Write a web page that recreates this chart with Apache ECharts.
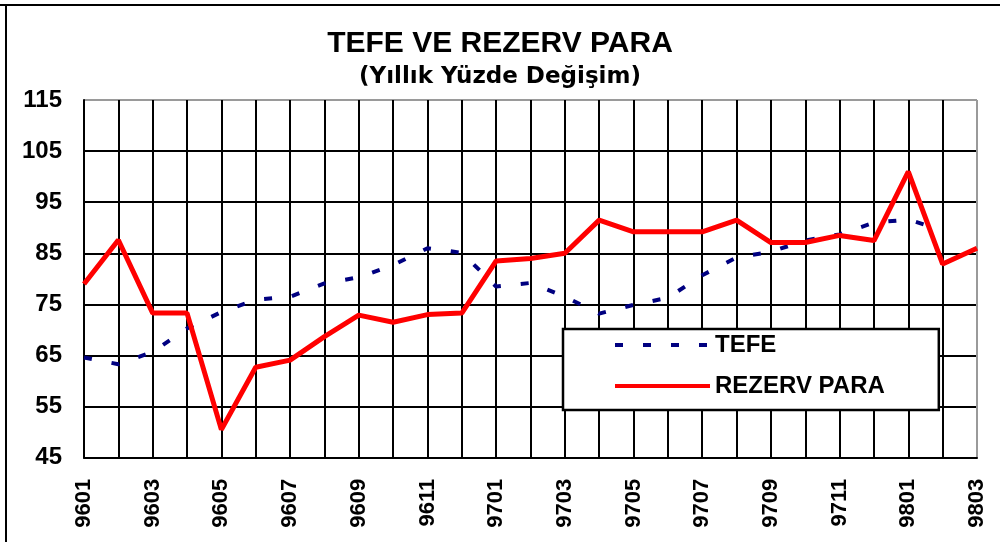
<!DOCTYPE html>
<html>
<head>
<meta charset="utf-8">
<script src="https://cdn.jsdelivr.net/npm/echarts@6/dist/echarts.min.js"></script>
<style>
html,body{margin:0;padding:0;background:#fff;}
#c{width:1000px;height:542px;}
</style>
</head>
<body>
<div id="c"></div>
<script>
var categories = ['9601','9602','9603','9604','9605','9606','9607','9608','9609','9610','9611','9612',
                  '9701','9702','9703','9704','9705','9706','9707','9708','9709','9710','9711','9712',
                  '9801','9802','9803'];
var tefe = [64.6, 63.3, 65.7, 70.3, 73.5, 75.9, 76.5, 79.1, 80.3, 82.7, 86.0, 85.1,
            78.5, 79.2, 76.5, 73.2, 74.9, 76.3, 80.7, 84.2, 85.3, 87.5, 88.7, 91.0,
            91.6, 89.5, null];
var rezervPara = [79.0, 87.6, 73.3, 73.3, 50.5, 62.7, 64.1, 68.7, 72.9, 71.5, 73.0, 73.3,
                  83.5, 84.0, 85.0, 91.5, 89.2, 89.2, 89.2, 91.5, 87.1, 87.1, 88.5, 87.5,
                  101.0, 82.9, 86.0];
var yTicks = {min: 45, max: 115, interval: 10};
var titleText = 'TEFE VE REZERV PARA';
var subtitleText = '(Yıllık Yüzde Değişim)';
var seriesNames = ['TEFE', 'REZERV PARA'];

var xLineColors = categories.map(function (c, i) { return i === categories.length - 1 ? '#9a9a9a' : '#000'; });
var yLineColors = [];
for (var v = yTicks.min; v <= yTicks.max; v += yTicks.interval) {
  yLineColors.push(v === yTicks.max ? '#9a9a9a' : '#000');
}

var chart = echarts.init(document.getElementById('c'), null, {renderer: 'canvas'});
chart.setOption({
  backgroundColor: '#fff',
  animation: false,
  title: [
    {
      text: titleText, left: 'center', top: 29, padding: [0, 0, 0, 22],
      textStyle: {fontFamily: 'Arial, "Liberation Sans", sans-serif', fontWeight: 'bold', fontSize: 30, color: '#000'}
    },
    {
      text: subtitleText, left: 'center', top: 66, padding: [0, 0, 0, 16],
      textStyle: {fontFamily: '"DejaVu Sans", sans-serif', fontWeight: 'bold', fontSize: 23, color: '#000'}
    }
  ],
  graphic: [
    {type: 'line', shape: {x1: 0, y1: 5, x2: 1000, y2: 5}, style: {stroke: '#000', lineWidth: 2}},
    {type: 'line', shape: {x1: 6, y1: 4, x2: 6, y2: 542}, style: {stroke: '#000', lineWidth: 2}}
  ],
  grid: {left: 84, top: 100, width: 893, height: 357.7, containLabel: false},
  legend: {
    orient: 'vertical',
    left: 563, top: 329,
    data: [
      {name: seriesNames[0], icon: 'inherit', itemStyle: {opacity: 0},
       lineStyle: {color: '#000080', width: 4, type: [8, 20], opacity: 1}},
      {name: seriesNames[1], icon: 'inherit', itemStyle: {opacity: 0},
       lineStyle: {color: '#ff0000', width: 4, type: 'solid', opacity: 1}}
    ],
    itemWidth: 95, itemHeight: 20, itemGap: 17,
    padding: [4, 54, 12, 50],
    backgroundColor: '#fff',
    borderColor: '#000', borderWidth: 2.5, borderRadius: 0,
    textStyle: {fontFamily: 'Arial, "Liberation Sans", sans-serif', fontWeight: 'bold', fontSize: 24, color: '#000'}
  },
  xAxis: {
    type: 'category',
    data: categories,
    boundaryGap: false,
    axisLine: {show: true, lineStyle: {color: '#000', width: 2}},
    axisTick: {show: false},
    splitLine: {show: true, interval: 0, lineStyle: {color: xLineColors, width: 2}},
    axisLabel: {
      interval: 1, rotate: 90, margin: 21,
      fontFamily: 'Arial, "Liberation Sans", sans-serif',
      fontWeight: 'bold', fontSize: 22, color: '#000'
    }
  },
  yAxis: {
    type: 'value',
    min: yTicks.min, max: yTicks.max, interval: yTicks.interval,
    axisLine: {show: true, lineStyle: {color: '#000', width: 2}},
    axisTick: {show: false},
    splitLine: {show: true, lineStyle: {color: yLineColors, width: 2}},
    axisLabel: {
      margin: 22,
      fontFamily: 'Arial, "Liberation Sans", sans-serif',
      fontWeight: 'bold', fontSize: 24, color: '#000'
    }
  },
  series: [
    {
      name: seriesNames[0], type: 'line', data: tefe,
      symbol: 'none', showSymbol: false, connectNulls: false,
      lineStyle: {color: '#000080', width: 4, type: [8, 20]},
      itemStyle: {color: '#000080'}, z: 3
    },
    {
      name: seriesNames[1], type: 'line', data: rezervPara,
      symbol: 'none', showSymbol: false,
      lineStyle: {color: '#ff0000', width: 5, type: 'solid'},
      itemStyle: {color: '#ff0000'}, z: 4
    }
  ]
});
</script>
</body>
</html>
